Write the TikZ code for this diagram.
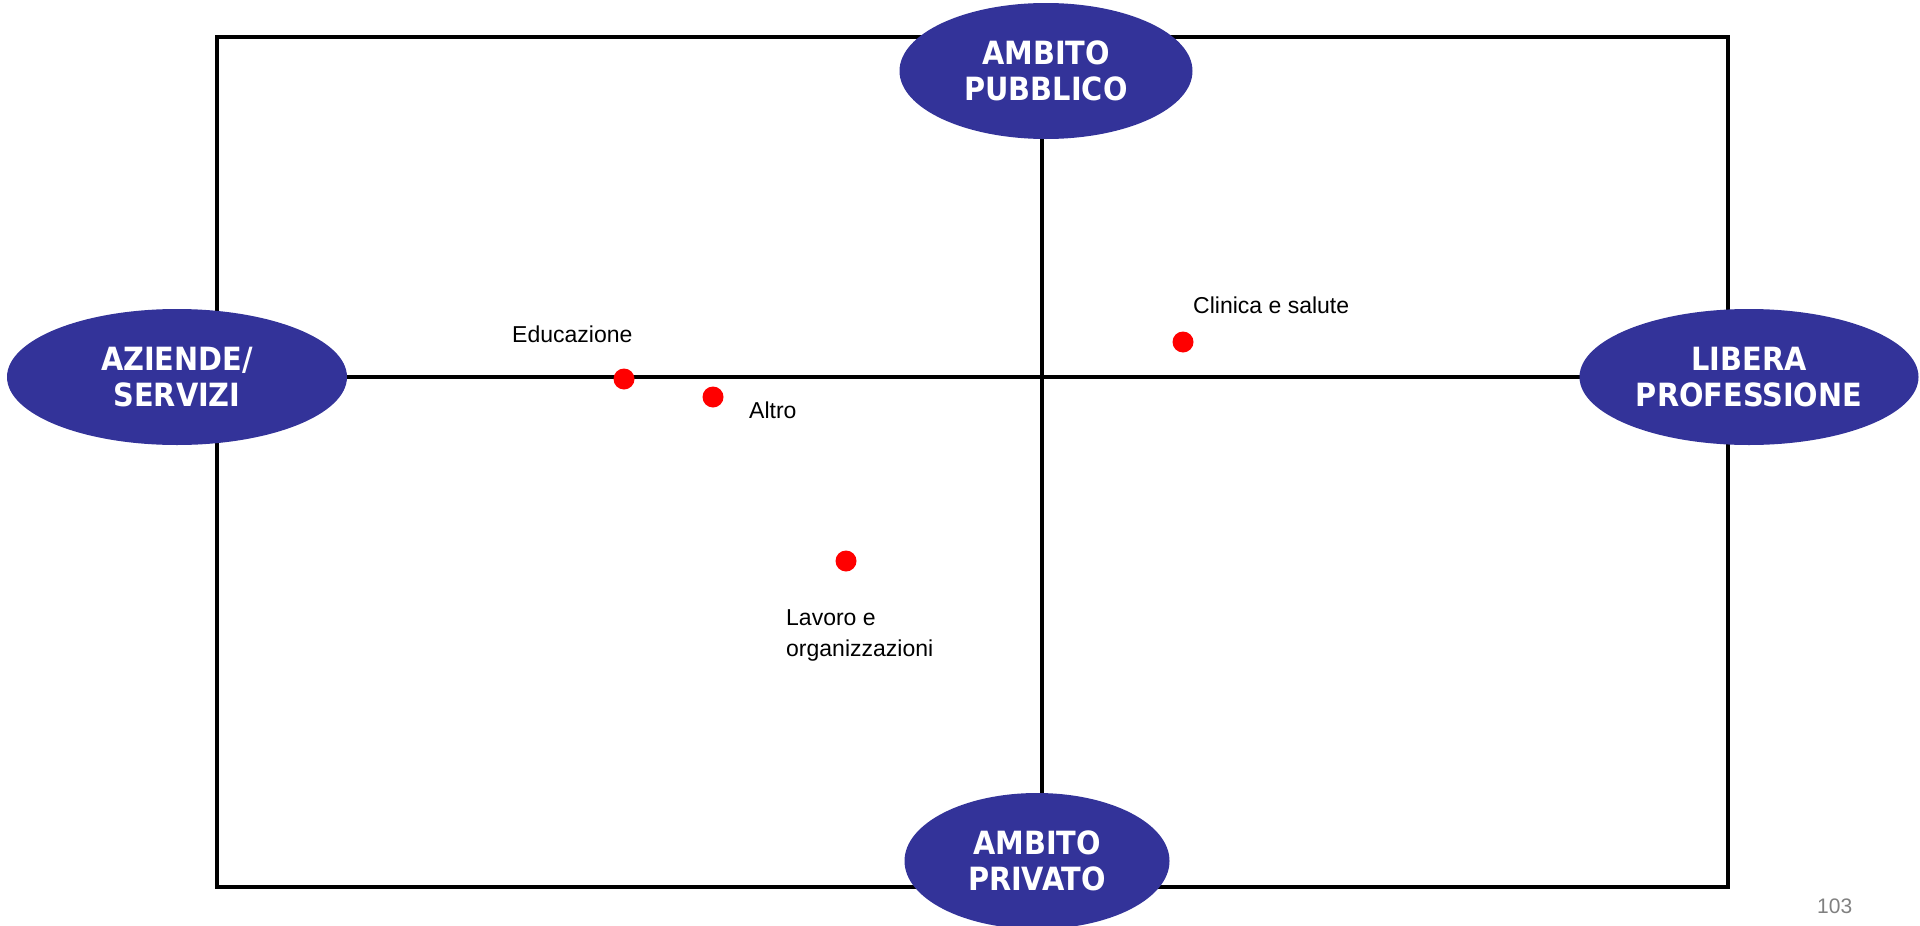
\documentclass[tikz,border=0pt]{standalone}
\usepackage{fontspec}
\setmainfont{Liberation Sans}
\newfontfamily\ellfont{DejaVu Sans Condensed}
\usetikzlibrary{shapes.geometric}
\definecolor{ellblue}{RGB}{51,51,153}
\definecolor{pgray}{RGB}{128,128,128}
\tikzset{
  axisline/.style={line width=4pt, black},
  pole/.style={ellipse, fill=ellblue, draw=none, inner sep=0pt, align=center,
    text=white, font=\ellfont\bfseries\fontsize{32}{36}\selectfont},
  dot/.style={circle, fill=red, draw=none, minimum size=21pt, inner sep=0pt},
  lbl/.style={inner sep=0pt, anchor=base west, align=left, font=\fontsize{23}{31}\selectfont}
}
\begin{document}
\begin{tikzpicture}[x=1pt,y=-1pt]
\useasboundingbox (0,0) rectangle (1920,926);
% frame
\coordinate (tl) at (217,37);
\coordinate (br) at (1728,887);
\draw[axisline] (tl) rectangle (br);
% axes
\coordinate (vt) at (1042,71);
\coordinate (vb) at (1042,861);
\coordinate (hl) at (177,377);
\coordinate (hr) at (1749,377);
\draw[axisline] (vt) -- (vb);
\draw[axisline] (hl) -- (hr);
% poles
\node[pole, minimum width=293pt, minimum height=136pt] (top) at (1046,71) {AMBITO\\PUBBLICO};
\node[pole, minimum width=265pt, minimum height=136pt] (bottom) at (1037,861) {AMBITO\\PRIVATO};
\node[pole, minimum width=340pt, minimum height=136pt] (left) at (177,377) {AZIENDE/\\SERVIZI};
\node[pole, minimum width=339pt, minimum height=136pt] (right) at (1749,377) {LIBERA\\PROFESSIONE};
% points
\node[dot] (edu) at (624,379) {};
\node[dot] (altro) at (713,397) {};
\node[dot] (clin) at (1183,342) {};
\node[dot] (lav) at (846,561) {};
\node[lbl] (edut) at (512,342) {Educazione};
\node[lbl] (altrot) at (749,418) {Altro};
\node[lbl] (clint) at (1193,313) {Clinica e salute};
\node[lbl] (lavt) at (786,656) {Lavoro e\\organizzazioni};
% page number
\node[inner sep=0pt, anchor=base west, text=pgray, font=\fontsize{21}{25}\selectfont] (pn) at (1817,913) {103};
\end{tikzpicture}
\end{document}
